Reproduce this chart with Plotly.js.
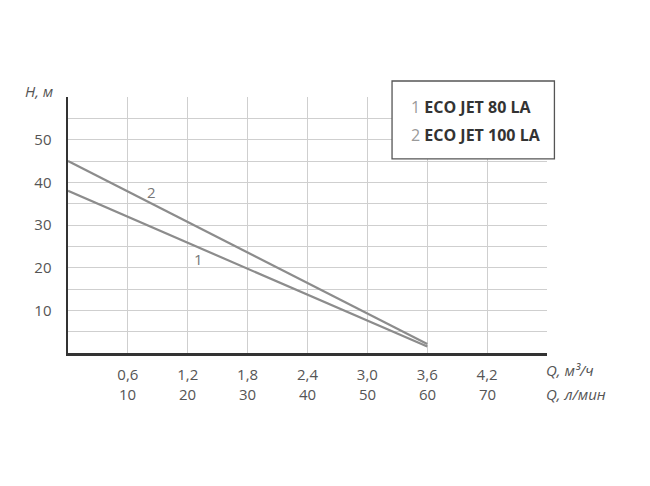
<!DOCTYPE html>
<html>
<head>
<meta charset="utf-8">
<script src="https://cdn.plot.ly/plotly-3.0.1.min.js"></script>
<style>html,body{margin:0;padding:0;background:#fff;}#chart{width:650px;height:486px;}</style>
</head>
<body>
<div id="chart"></div>
<script>
// Data
var q1 = [0, 3.6];           // Q, m3/h  (ECO JET 80 LA)
var h1 = [38, 1.5];          // H, m
var q2 = [0, 3.6];           // Q, m3/h  (ECO JET 100 LA)
var h2 = [45, 2.1];          // H, m
var seriesNames = ['1', '2'];
var legendNames = ['ECO JET 80 LA', 'ECO JET 100 LA'];
var xTickVals = [0.6, 1.2, 1.8, 2.4, 3.0, 3.6, 4.2, 4.8];
var xTickText = ['0,6', '1,2', '1,8', '2,4', '3,0', '3,6', '4,2', ''];
var lpmTicks = [10, 20, 30, 40, 50, 60, 70];       // Q, l/min
var yTickVals = [5, 10, 15, 20, 25, 30, 35, 40, 45, 50, 55, 60];
var yTickText = ['', '10', '', '20', '', '30', '', '40', '', '50', '', ''];
var curveLabelPos = [[1.31, 22.0], [0.84, 37.7]];

var lineColor = '#8c8c8c';
var textGray = '#555555';
var fontFam = 'Open Sans, sans-serif';

var traces = [
  {x: q1, y: h1, mode: 'lines', line: {color: lineColor, width: 2.2}, name: legendNames[0], hoverinfo: 'skip'},
  {x: q2, y: h2, mode: 'lines', line: {color: lineColor, width: 2.2}, name: legendNames[1], hoverinfo: 'skip'}
];

var annotations = [];
// second row of x tick labels (l/min); 1 m3/h = 1000/60 l/min
lpmTicks.forEach(function (v) {
  annotations.push({x: v * 0.06, xref: 'x', y: 0, yref: 'paper', yshift: -41,
    text: String(v), showarrow: false, xanchor: 'center', yanchor: 'middle',
    font: {family: fontFam, size: 15, color: textGray}});
});
// axis unit labels
annotations.push({x: 1, xref: 'paper', xshift: -3, y: 0, yref: 'paper', yshift: -17, text: '<i>Q, м³/ч</i>',
  showarrow: false, xanchor: 'left', yanchor: 'middle', font: {family: fontFam, size: 15, color: textGray}});
annotations.push({x: 1, xref: 'paper', xshift: -3, y: 0, yref: 'paper', yshift: -41, text: '<i>Q, л/мин</i>',
  showarrow: false, xanchor: 'left', yanchor: 'middle', font: {family: fontFam, size: 15, color: textGray}});
annotations.push({x: 0, xref: 'paper', xshift: -13, y: 1, yref: 'paper', yshift: 6, text: '<i>H, м</i>',
  showarrow: false, xanchor: 'right', yanchor: 'middle', font: {family: fontFam, size: 15, color: textGray}});
// curve labels
curveLabelPos.forEach(function (p, i) {
  annotations.push({x: p[0], y: p[1], xref: 'x', yref: 'y', text: seriesNames[i], showarrow: false,
    font: {family: fontFam, size: 15, color: '#777777'}});
});
// legend box texts
var legY = [0.960, 0.852];
legendNames.forEach(function (n, i) {
  annotations.push({x: 0.711, xref: 'paper', y: legY[i], yref: 'paper', xanchor: 'left', yanchor: 'middle',
    showarrow: false,
    text: '<span style="color:#9a9a9a">' + seriesNames[i] + '</span> <b>' + n + '</b>',
    font: {family: fontFam, size: 16, color: '#333333'}});
});

var layout = {
  width: 650, height: 486,
  margin: {l: 68, r: 103, t: 97, b: 133, pad: 0},
  paper_bgcolor: '#ffffff', plot_bgcolor: '#ffffff',
  showlegend: false,
  font: {family: fontFam, color: textGray},
  xaxis: {
    range: [0, 4.8], tickmode: 'array', tickvals: xTickVals, ticktext: xTickText,
    showgrid: true, gridcolor: '#cfcfcf', gridwidth: 1,
    zeroline: false, showline: true, linecolor: '#333333', linewidth: 2.5,
    ticks: 'outside', ticklen: 6, tickcolor: 'rgba(0,0,0,0)',
    tickfont: {family: fontFam, size: 15, color: textGray}, fixedrange: true
  },
  yaxis: {
    range: [0, 60], tickmode: 'array', tickvals: yTickVals, ticktext: yTickText,
    showgrid: true, gridcolor: '#cfcfcf', gridwidth: 1,
    zeroline: false, showline: true, linecolor: '#333333', linewidth: 2.5,
    ticks: 'outside', ticklen: 11, tickcolor: 'rgba(0,0,0,0)',
    tickfont: {family: fontFam, size: 15, color: textGray}, fixedrange: true
  },
  shapes: [
    {type: 'rect', xref: 'paper', yref: 'paper', x0: 0.6765, x1: 1.0155, y0: 0.758, y1: 1.0625,
      fillcolor: '#ffffff', line: {color: '#555555', width: 1.3}, layer: 'above'}
  ],
  annotations: annotations
};

Plotly.newPlot('chart', traces, layout, {displayModeBar: false, staticPlot: true});
</script>
</body>
</html>
